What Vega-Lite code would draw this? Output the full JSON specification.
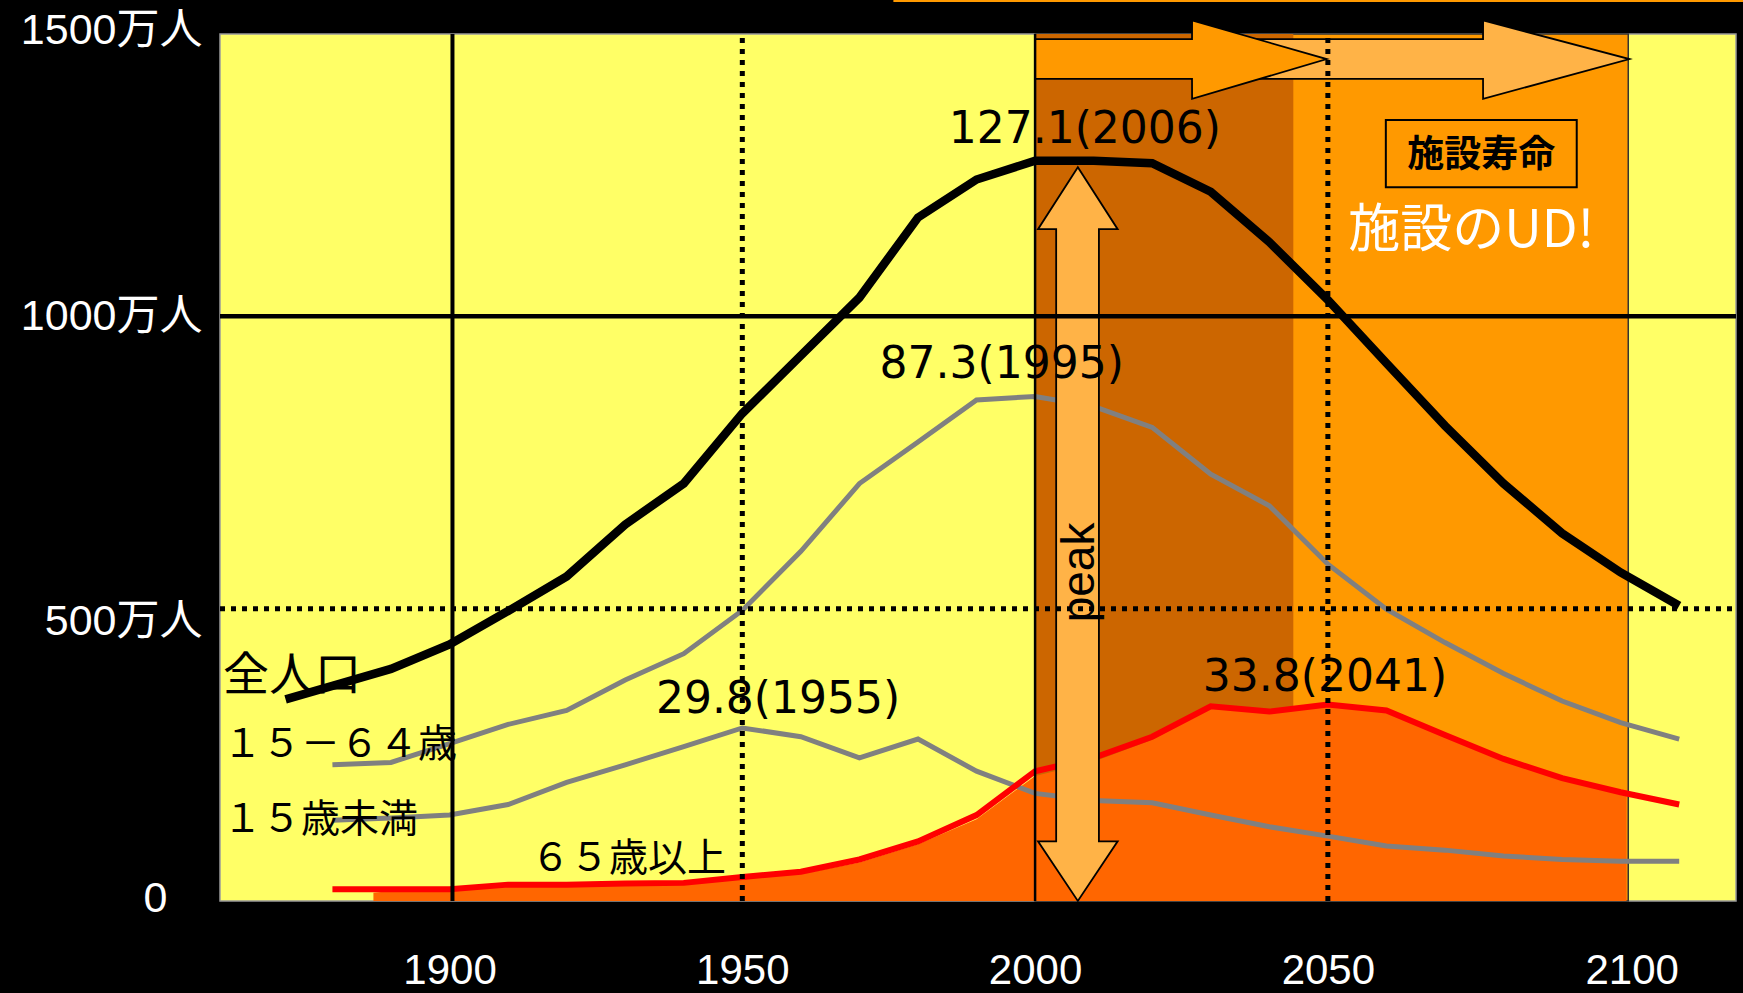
{
  "$schema": "https://vega.github.io/schema/vega-lite/v6.json",
  "width": 1516,
  "height": 877,
  "autosize": {"type": "none"},
  "padding": {"left": 220, "top": 24, "right": 7, "bottom": 92},
  "background": "#000000",
  "config": {"view": {"stroke": null}},
  "datasets": {
    "panels": [
      {"part": "plot", "year": 1860.8, "year2": 2119.7, "value": 0, "value2": 1483},
      {"part": "future", "year": 2000, "year2": 2101.3, "value": 0, "value2": 1483},
      {"part": "lifespan", "year": 2000, "year2": 2044.1, "value": 0, "value2": 1483}
    ],
    "population": [
      {"series": "total", "year": 1872, "value": 345},
      {"series": "total", "year": 1880, "value": 368},
      {"series": "total", "year": 1890, "value": 397},
      {"series": "total", "year": 1900, "value": 439},
      {"series": "total", "year": 1910, "value": 496},
      {"series": "total", "year": 1920, "value": 555},
      {"series": "total", "year": 1930, "value": 644},
      {"series": "total", "year": 1940, "value": 714},
      {"series": "total", "year": 1950, "value": 834},
      {"series": "total", "year": 1960, "value": 933},
      {"series": "total", "year": 1970, "value": 1032},
      {"series": "total", "year": 1980, "value": 1169},
      {"series": "total", "year": 1990, "value": 1234},
      {"series": "total", "year": 2000, "value": 1266},
      {"series": "total", "year": 2010, "value": 1266},
      {"series": "total", "year": 2020, "value": 1262},
      {"series": "total", "year": 2030, "value": 1213},
      {"series": "total", "year": 2040, "value": 1127},
      {"series": "total", "year": 2050, "value": 1028},
      {"series": "total", "year": 2060, "value": 920},
      {"series": "total", "year": 2070, "value": 813},
      {"series": "total", "year": 2080, "value": 714},
      {"series": "total", "year": 2090, "value": 629},
      {"series": "total", "year": 2100, "value": 562},
      {"series": "total", "year": 2110, "value": 505},
      {"series": "15-64", "year": 1880, "value": 233},
      {"series": "15-64", "year": 1890, "value": 237},
      {"series": "15-64", "year": 1900, "value": 269},
      {"series": "15-64", "year": 1910, "value": 302},
      {"series": "15-64", "year": 1920, "value": 326},
      {"series": "15-64", "year": 1930, "value": 378},
      {"series": "15-64", "year": 1940, "value": 423},
      {"series": "15-64", "year": 1950, "value": 497},
      {"series": "15-64", "year": 1960, "value": 598},
      {"series": "15-64", "year": 1970, "value": 714},
      {"series": "15-64", "year": 1980, "value": 785},
      {"series": "15-64", "year": 1990, "value": 857},
      {"series": "15-64", "year": 2000, "value": 863},
      {"series": "15-64", "year": 2010, "value": 846},
      {"series": "15-64", "year": 2020, "value": 810},
      {"series": "15-64", "year": 2030, "value": 730},
      {"series": "15-64", "year": 2040, "value": 676},
      {"series": "15-64", "year": 2050, "value": 576},
      {"series": "15-64", "year": 2060, "value": 499},
      {"series": "15-64", "year": 2070, "value": 442},
      {"series": "15-64", "year": 2080, "value": 389},
      {"series": "15-64", "year": 2090, "value": 342},
      {"series": "15-64", "year": 2100, "value": 305},
      {"series": "15-64", "year": 2110, "value": 277},
      {"series": "0-14", "year": 1880, "value": 138},
      {"series": "0-14", "year": 1890, "value": 142},
      {"series": "0-14", "year": 1900, "value": 147},
      {"series": "0-14", "year": 1910, "value": 165},
      {"series": "0-14", "year": 1920, "value": 203},
      {"series": "0-14", "year": 1930, "value": 233},
      {"series": "0-14", "year": 1940, "value": 264},
      {"series": "0-14", "year": 1950, "value": 296},
      {"series": "0-14", "year": 1960, "value": 281},
      {"series": "0-14", "year": 1970, "value": 245},
      {"series": "0-14", "year": 1980, "value": 277},
      {"series": "0-14", "year": 1990, "value": 222},
      {"series": "0-14", "year": 2000, "value": 184},
      {"series": "0-14", "year": 2010, "value": 172},
      {"series": "0-14", "year": 2020, "value": 168},
      {"series": "0-14", "year": 2030, "value": 147},
      {"series": "0-14", "year": 2040, "value": 127},
      {"series": "0-14", "year": 2050, "value": 111},
      {"series": "0-14", "year": 2060, "value": 94},
      {"series": "0-14", "year": 2070, "value": 87},
      {"series": "0-14", "year": 2080, "value": 77},
      {"series": "0-14", "year": 2090, "value": 71},
      {"series": "0-14", "year": 2100, "value": 68},
      {"series": "0-14", "year": 2110, "value": 68},
      {"series": "65+", "year": 1880, "value": 20},
      {"series": "65+", "year": 1890, "value": 20},
      {"series": "65+", "year": 1900, "value": 20},
      {"series": "65+", "year": 1910, "value": 28},
      {"series": "65+", "year": 1920, "value": 28},
      {"series": "65+", "year": 1930, "value": 30},
      {"series": "65+", "year": 1940, "value": 31},
      {"series": "65+", "year": 1950, "value": 41},
      {"series": "65+", "year": 1960, "value": 50},
      {"series": "65+", "year": 1970, "value": 71},
      {"series": "65+", "year": 1980, "value": 102},
      {"series": "65+", "year": 1990, "value": 147},
      {"series": "65+", "year": 2000, "value": 222},
      {"series": "65+", "year": 2010, "value": 245},
      {"series": "65+", "year": 2020, "value": 281},
      {"series": "65+", "year": 2030, "value": 333},
      {"series": "65+", "year": 2040, "value": 324},
      {"series": "65+", "year": 2050, "value": 336},
      {"series": "65+", "year": 2060, "value": 326},
      {"series": "65+", "year": 2070, "value": 284},
      {"series": "65+", "year": 2080, "value": 243},
      {"series": "65+", "year": 2090, "value": 210},
      {"series": "65+", "year": 2100, "value": 186},
      {"series": "65+", "year": 2110, "value": 165}
    ],
    "aged_area": [
      {"year": 1887, "value": 14},
      {"year": 1890, "value": 17},
      {"year": 1900, "value": 18},
      {"year": 1910, "value": 25},
      {"year": 1920, "value": 26},
      {"year": 1930, "value": 28},
      {"year": 1940, "value": 29},
      {"year": 1950, "value": 38},
      {"year": 1960, "value": 46},
      {"year": 1970, "value": 66},
      {"year": 1980, "value": 97},
      {"year": 1990, "value": 140},
      {"year": 2000, "value": 214},
      {"year": 2010, "value": 238},
      {"year": 2020, "value": 276},
      {"year": 2030, "value": 330},
      {"year": 2040, "value": 322},
      {"year": 2050, "value": 335},
      {"year": 2060, "value": 325},
      {"year": 2070, "value": 284},
      {"year": 2080, "value": 243},
      {"year": 2090, "value": 210},
      {"year": 2101, "value": 185}
    ],
    "arrows_h": [
      {"arrow": "life", "year": 2026.8, "value": 1474, "value2": 1406},
      {"arrow": "life", "year": 2076.5, "value": 1474, "value2": 1406},
      {"arrow": "life", "year": 2076.51, "value": 1506, "value2": 1372},
      {"arrow": "life", "year": 2101.5, "value": 1440, "value2": 1440},
      {"arrow": "now", "year": 2000, "value": 1474, "value2": 1406},
      {"arrow": "now", "year": 2026.8, "value": 1474, "value2": 1406},
      {"arrow": "now", "year": 2026.81, "value": 1506, "value2": 1372},
      {"arrow": "now", "year": 2049.8, "value": 1440, "value2": 1440}
    ],
    "arrow_peak": [
      {"value": 0, "year": 2007.3, "year2": 2007.3},
      {"value": 102, "year": 2000.5, "year2": 2014.1},
      {"value": 102.01, "year": 2003.6, "year2": 2010.9},
      {"value": 1149, "year": 2003.6, "year2": 2010.9},
      {"value": 1149.01, "year": 2000.5, "year2": 2014.1},
      {"value": 1255, "year": 2007.3, "year2": 2007.3}
    ],
    "vlines": [
      {"kind": "solid", "year": 1900.5, "value": 0, "value2": 1483},
      {"kind": "dotted", "year": 1950, "value": 0, "value2": 1483},
      {"kind": "dotted", "year": 2050, "value": 0, "value2": 1483},
      {"kind": "edge", "year": 2000, "value": 0, "value2": 1483}
    ],
    "hlines": [
      {"kind": "solid", "value": 1000, "year": 1860.8, "year2": 2119.7},
      {"kind": "dotted", "value": 500, "year": 1860.8, "year2": 2119.7}
    ],
    "topline": [
      {"year": 1975.8, "year2": 2140, "value": 1540}
    ],
    "box": [
      {"year": 2059.9, "year2": 2092.5, "value": 1220.7, "value2": 1335.8}
    ],
    "peak_labels": [
      {"year": 2008.5, "value": 1318.7, "label": "127.1(2006)"},
      {"year": 1994.3, "value": 916.8, "label": "87.3(1995)"},
      {"year": 1956.1, "value": 343.6, "label": "29.8(1955)"},
      {"year": 2049.5, "value": 381.4, "label": "33.8(2041)"}
    ],
    "series_labels": [
      {"group": "big", "year": 1861.3, "value": 384.8, "label": "全人口"},
      {"group": "small", "year": 1861.3, "value": 266.8, "label": "１５－６４歳"},
      {"group": "small", "year": 1861.3, "value": 138.5, "label": "１５歳未満"},
      {"group": "small", "year": 1913.9, "value": 71.3, "label": "６５歳以上"}
    ],
    "notes": [
      {"kind": "box", "year": 2076.2, "value": 1274.2, "label": "施設寿命"},
      {"kind": "ud", "year": 2074.5, "value": 1145.9, "label": "施設のUD!"},
      {"kind": "peak", "year": 2007.6, "value": 562, "label": "peak"}
    ]
  },
  "encoding": {
    "x": {
      "field": "year",
      "type": "quantitative",
      "scale": {"domain": [1860.8, 2119.7], "nice": false, "zero": false},
      "axis": {
        "values": [1900, 1950, 2000, 2050, 2100],
        "format": "d",
        "title": null,
        "grid": false,
        "domain": false,
        "ticks": false,
        "tickSize": 0,
        "labelPadding": 49,
        "labelFont": "Liberation Sans",
        "labelFontSize": 42,
        "labelColor": "#ffffff",
        "labelFlush": false,
        "labelOverlap": false,
        "labelLimit": 0,
        "labelBaseline": "top",
        "labelOffset": {"condition": {"test": "datum.value == 2100", "value": 11}, "value": 0}
      }
    },
    "y": {
      "field": "value",
      "type": "quantitative",
      "scale": {"domain": [0, 1500], "nice": false, "zero": true},
      "axis": {
        "values": [0, 500, 1000, 1500],
        "labelExpr": "datum.value == 0 ? '0' : datum.value + '万人'",
        "title": null,
        "grid": false,
        "domain": false,
        "ticks": false,
        "tickSize": 0,
        "labelPadding": {"condition": {"test": "datum.value == 0", "value": 53}, "value": 18},
        "labelFont": "Liberation Sans, Noto Sans CJK JP",
        "labelFontSize": 43,
        "labelColor": "#ffffff",
        "labelFlush": false,
        "labelOverlap": false,
        "labelLimit": 0,
        "labelOffset": {"condition": [
          {"test": "datum.value == 0", "value": -3},
          {"test": "datum.value == 500", "value": 13},
          {"test": "datum.value == 1500", "value": 6}
        ], "value": 0}
      }
    }
  },
  "layer": [
    {
      "data": {"name": "panels"},
      "transform": [{"filter": "datum.part == 'plot'"}],
      "mark": {"type": "rect", "fill": "#FFFF66", "stroke": "#9a9a9a", "strokeWidth": 1.5},
      "encoding": {"x2": {"field": "year2"}, "y2": {"field": "value2"}}
    },
    {
      "data": {"name": "panels"},
      "transform": [{"filter": "datum.part == 'future'"}],
      "mark": {"type": "rect", "fill": "#FF9900", "stroke": "#333333", "strokeWidth": 1.5},
      "encoding": {"x2": {"field": "year2"}, "y2": {"field": "value2"}}
    },
    {
      "data": {"name": "panels"},
      "transform": [{"filter": "datum.part == 'lifespan'"}],
      "mark": {"type": "rect", "fill": "#CC6600"},
      "encoding": {"x2": {"field": "year2"}, "y2": {"field": "value2"}}
    },
    {
      "data": {"name": "aged_area"},
      "mark": {"type": "area", "color": "#FF6600", "opacity": 1},
      "encoding": {}
    },
    {
      "data": {"name": "population"},
      "transform": [{"filter": "datum.series == '15-64' || datum.series == '0-14'"}],
      "mark": {"type": "line", "color": "#808080", "strokeWidth": 5},
      "encoding": {"detail": {"field": "series"}}
    },
    {
      "data": {"name": "population"},
      "transform": [{"filter": "datum.series == '65+'"}],
      "mark": {"type": "line", "color": "#FF0000", "strokeWidth": 6},
      "encoding": {}
    },
    {
      "data": {"name": "population"},
      "transform": [{"filter": "datum.series == 'total'"}],
      "mark": {"type": "line", "color": "#000000", "strokeWidth": 8.5},
      "encoding": {}
    },
    {
      "data": {"name": "arrows_h"},
      "transform": [{"filter": "datum.arrow == 'life'"}],
      "mark": {"type": "area", "orient": "vertical", "color": "#FFB347", "opacity": 1, "stroke": "#000000", "strokeWidth": 1.8},
      "encoding": {"y2": {"field": "value2"}}
    },
    {
      "data": {"name": "arrows_h"},
      "transform": [{"filter": "datum.arrow == 'now'"}],
      "mark": {"type": "area", "orient": "vertical", "color": "#FF9900", "opacity": 1, "stroke": "#000000", "strokeWidth": 1.8},
      "encoding": {"y2": {"field": "value2"}}
    },
    {
      "data": {"name": "arrow_peak"},
      "mark": {"type": "area", "orient": "horizontal", "color": "#FFB347", "opacity": 1, "stroke": "#000000", "strokeWidth": 1.8},
      "encoding": {"x2": {"field": "year2"}}
    },
    {
      "data": {"name": "vlines"},
      "transform": [{"filter": "datum.kind == 'edge'"}],
      "mark": {"type": "rule", "color": "#000000", "strokeWidth": 2.5},
      "encoding": {"y2": {"field": "value2"}}
    },
    {
      "data": {"name": "vlines"},
      "transform": [{"filter": "datum.kind == 'solid'"}],
      "mark": {"type": "rule", "color": "#000000", "strokeWidth": 4},
      "encoding": {"y2": {"field": "value2"}}
    },
    {
      "data": {"name": "vlines"},
      "transform": [{"filter": "datum.kind == 'dotted'"}],
      "mark": {"type": "rule", "color": "#000000", "strokeWidth": 5, "strokeDash": [5, 6], "strokeCap": "butt"},
      "encoding": {"y2": {"field": "value2"}}
    },
    {
      "data": {"name": "hlines"},
      "transform": [{"filter": "datum.kind == 'solid'"}],
      "mark": {"type": "rule", "color": "#000000", "strokeWidth": 4.5},
      "encoding": {"x2": {"field": "year2"}}
    },
    {
      "data": {"name": "hlines"},
      "transform": [{"filter": "datum.kind == 'dotted'"}],
      "mark": {"type": "rule", "color": "#000000", "strokeWidth": 5, "strokeDash": [5, 6], "strokeCap": "butt"},
      "encoding": {"x2": {"field": "year2"}}
    },
    {
      "data": {"name": "box"},
      "mark": {"type": "rect", "fill": null, "fillOpacity": 0, "stroke": "#000000", "strokeWidth": 2},
      "encoding": {"x2": {"field": "year2"}, "y2": {"field": "value2"}}
    },
    {
      "data": {"name": "topline"},
      "mark": {"type": "rule", "color": "#FF9900", "strokeWidth": 3},
      "encoding": {"x2": {"field": "year2"}}
    },
    {
      "data": {"name": "peak_labels"},
      "mark": {"type": "text", "font": "DejaVu Sans", "fontSize": 44, "color": "#000000", "align": "center", "baseline": "middle"},
      "encoding": {"text": {"field": "label"}}
    },
    {
      "data": {"name": "series_labels"},
      "transform": [{"filter": "datum.group == 'big'"}],
      "mark": {"type": "text", "font": "Noto Sans CJK JP", "fontSize": 46, "color": "#000000", "align": "left", "baseline": "middle"},
      "encoding": {"text": {"field": "label"}}
    },
    {
      "data": {"name": "series_labels"},
      "transform": [{"filter": "datum.group == 'small'"}],
      "mark": {"type": "text", "font": "Noto Sans CJK JP", "fontSize": 39, "color": "#000000", "align": "left", "baseline": "middle"},
      "encoding": {"text": {"field": "label"}}
    },
    {
      "data": {"name": "notes"},
      "transform": [{"filter": "datum.kind == 'box'"}],
      "mark": {"type": "text", "font": "Noto Sans CJK JP", "fontSize": 37, "fontWeight": "bold", "color": "#000000", "align": "center", "baseline": "middle"},
      "encoding": {"text": {"field": "label"}}
    },
    {
      "data": {"name": "notes"},
      "transform": [{"filter": "datum.kind == 'ud'"}],
      "mark": {"type": "text", "font": "Noto Sans CJK JP", "fontSize": 52, "color": "#FFFFFF", "align": "center", "baseline": "middle"},
      "encoding": {"text": {"field": "label"}}
    },
    {
      "data": {"name": "notes"},
      "transform": [{"filter": "datum.kind == 'peak'"}],
      "mark": {"type": "text", "font": "Liberation Sans", "fontSize": 46, "color": "#000000", "align": "center", "baseline": "middle", "angle": 270},
      "encoding": {"text": {"field": "label"}}
    }
  ]
}
